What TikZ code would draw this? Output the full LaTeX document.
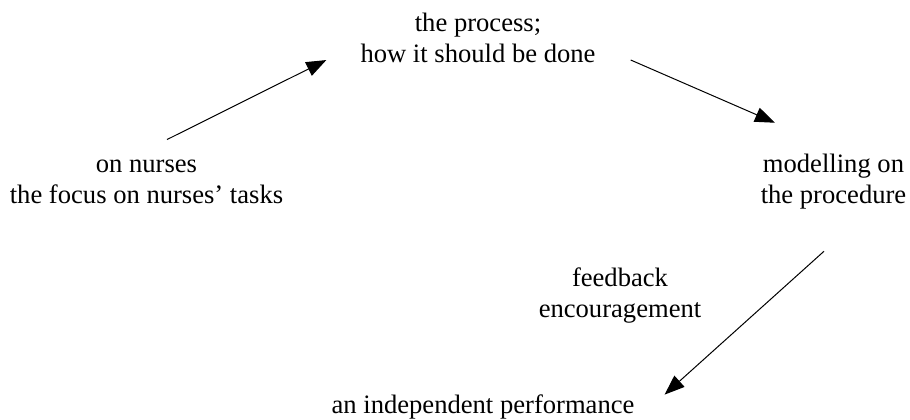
\documentclass[tikz,border=0pt]{standalone}
\usepackage{fontspec}
\setmainfont{Liberation Serif}
\usepackage{pgf,tikz}
\usetikzlibrary{arrows.meta,positioning,calc}

\tikzset{
    lbl/.style={align=center, font=\fontsize{26.6}{31}\selectfont, inner sep=3pt},
    arr/.style={-{Triangle[length=20pt,width=15pt]}, line width=1pt}
}

\begin{document}
\begin{tikzpicture}[x=1pt,y=-1pt]
    \useasboundingbox (0,0) rectangle (910,420);
    \node[lbl] (process) at (478,38) {the process;\\how it should be done};
    \node[lbl] (nurses) at (146.5,181.4) {on nurses\\the focus on nurses' tasks};
    \node[lbl] (modelling) at (833.5,181.3) {modelling on\\the procedure};
    \node[lbl] (feedback) at (620,295.8) {feedback\\encouragement};
    \node[lbl] (perf) at (483,406.8) {an independent performance};
    \path [arr]([xshift=20.5pt,yshift=16.75pt]nurses.north) edge node {} ([xshift=-31pt,yshift=6pt]process.south west);
    \path [arr]([xshift=32pt,yshift=-22pt]process.east) edge node {} ([xshift=-58.5pt,yshift=27.8pt]modelling.north);
    \path [arr]([xshift=-9.5pt,yshift=-39.2pt]modelling.south) edge node {} ([xshift=27pt,yshift=-3.2pt]perf.north east);
\end{tikzpicture}
\end{document}
